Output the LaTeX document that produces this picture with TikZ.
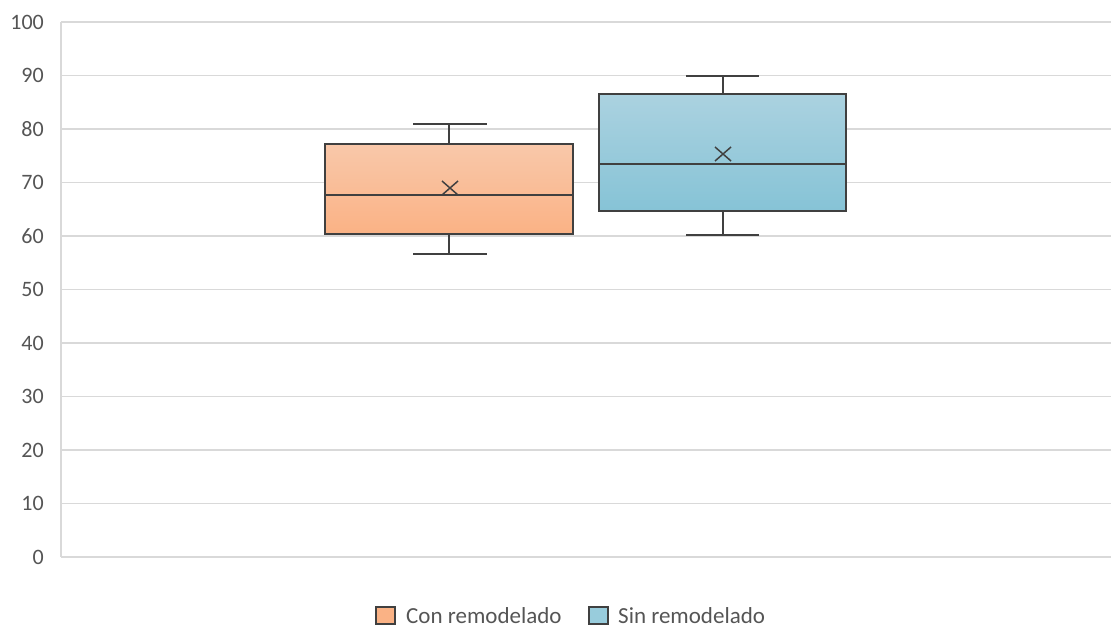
\documentclass[tikz,border=0pt]{standalone}
\usepackage{fontspec}
\setmainfont{Carlito}
\definecolor{gridc}{HTML}{D9D9D9}
\definecolor{txtc}{HTML}{555555}
\definecolor{linec}{HTML}{404040}
\definecolor{orgtop}{HTML}{F9C8AA}
\definecolor{orgbot}{HTML}{FAB285}
\definecolor{blutop}{HTML}{ABD2E0}
\definecolor{blubot}{HTML}{86C3D6}
\begin{document}
\begin{tikzpicture}[x=1pt,y=-1pt,
  gridline/.style={draw=gridc,line width=1.8pt},
  ticklab/.style={text=txtc,font=\fontsize{22}{26}\selectfont,anchor=east,inner sep=0pt},
  boxline/.style={draw=linec,line width=2pt},
  whisk/.style={draw=linec,line width=2pt},
  meanx/.style={draw=linec,line width=1.5pt},
  legtext/.style={text=txtc,font=\fontsize{23}{27}\selectfont,anchor=west,inner sep=0pt},
  legbox/.style={draw=linec,line width=1.6pt}]
\useasboundingbox (0,0) rectangle (1113,627);
% grid: y(v) = 557 - 5.35 v
\foreach \v in {0,10,...,100}{
  \pgfmathsetmacro{\yy}{557-5.35*\v}
  \draw[gridline] (61,\yy) -- (1111,\yy);
  \node[ticklab] (t\v) at (44,\yy) {\v};
}
\draw[gridline] (61,22) -- (61,557);
% Box 1: Con remodelado
\shade[top color=orgtop,bottom color=orgbot] (325,143.5) rectangle (573,233.5);
\draw[whisk] (449,143.5) -- (449,123.5) (413,123.5) -- (487,123.5);
\draw[whisk] (449,233.5) -- (449,253.5) (413,253.5) -- (487,253.5);
\draw[boxline] (325,143.5) rectangle (573,233.5);
\draw[boxline] (325,195) -- (573,195);
\draw[meanx] (442,181) -- (458,195) (442,195) -- (458,181);
% Box 2: Sin remodelado
\shade[top color=blutop,bottom color=blubot] (599,93.5) rectangle (845.5,211);
\draw[whisk] (723,93.5) -- (723,75.5) (686,75.5) -- (759,75.5);
\draw[whisk] (723,211) -- (723,235) (686,235) -- (759,235);
\draw[boxline] (599,93.5) rectangle (845.5,211);
\draw[boxline] (599,163.5) -- (845.5,163.5);
\draw[meanx] (715,147) -- (731,161) (715,161) -- (731,147);
% Legend
\draw[legbox,fill=orgbot] (376,607) rectangle (395,624);
\node[legtext] (l1) at (406,615.5) {Con remodelado};
\draw[legbox,fill=blubot!85!white] (589,607) rectangle (608,624);
\node[legtext] (l2) at (618,615.5) {Sin remodelado};
\end{tikzpicture}
\end{document}
